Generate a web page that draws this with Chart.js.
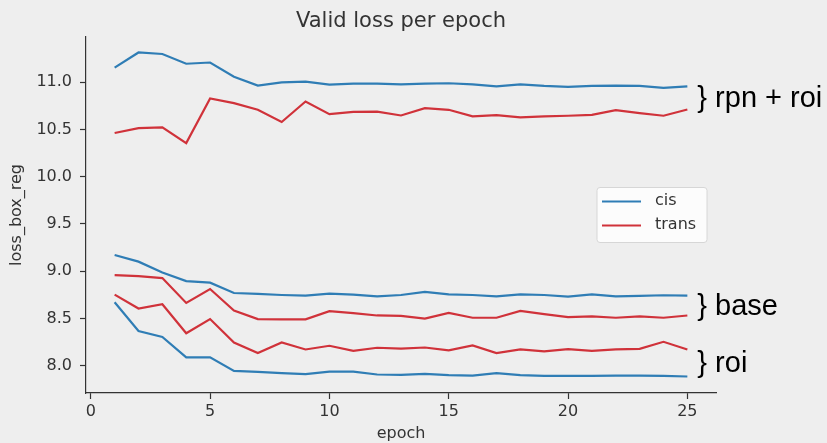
<!DOCTYPE html>
<html>
<head>
<meta charset="utf-8">
<script src="https://cdn.jsdelivr.net/npm/chart.js@4/dist/chart.umd.min.js"></script>
<style>
  html, body { margin: 0; padding: 0; background: #eeeeee; }
  canvas { display: block; }
</style>
</head>
<body>
<canvas id="lossChart" width="827" height="443"></canvas>
<script>
// valid loss values, epochs 1..25
const epochs = [1, 2, 3, 4, 5, 6, 7, 8, 9, 10, 11, 12, 13, 14, 15, 16, 17, 18, 19, 20, 21, 22, 23, 24, 25];

const cisRpnRoi = [11.155, 11.316, 11.30, 11.197, 11.21, 11.06, 10.965, 11.0, 11.007, 10.976, 10.986, 10.986, 10.979,
  10.986, 10.99, 10.979, 10.958, 10.979, 10.962, 10.951, 10.962, 10.965, 10.962, 10.941, 10.958];
const transRpnRoi = [10.463, 10.515, 10.523, 10.357, 10.83, 10.78, 10.71, 10.58, 10.797, 10.663, 10.688, 10.69, 10.649,
  10.726, 10.709, 10.639, 10.652, 10.628, 10.639, 10.646, 10.656, 10.705, 10.673, 10.646, 10.712];
const cisBase = [9.171, 9.101, 8.986, 8.895, 8.878, 8.769, 8.759, 8.748, 8.741, 8.762, 8.752, 8.734, 8.748,
  8.78, 8.755, 8.748, 8.734, 8.755, 8.748, 8.731, 8.755, 8.734, 8.738, 8.745, 8.741];
const transBase = [8.958, 8.948, 8.927, 8.664, 8.811, 8.584, 8.493, 8.49, 8.49, 8.577, 8.556, 8.531, 8.526,
  8.497, 8.559, 8.507, 8.507, 8.58, 8.545, 8.514, 8.521, 8.507, 8.521, 8.507, 8.531];
const cisRoi = [8.671, 8.367, 8.304, 8.087, 8.087, 7.944, 7.934, 7.92, 7.909, 7.937, 7.937, 7.906, 7.902,
  7.913, 7.899, 7.895, 7.92, 7.899, 7.892, 7.892, 7.892, 7.895, 7.895, 7.892, 7.885];
const transRoi = [8.752, 8.605, 8.65, 8.343, 8.493, 8.245, 8.133, 8.245, 8.171, 8.21, 8.157, 8.189, 8.18,
  8.192, 8.161, 8.213, 8.133, 8.171, 8.15, 8.175, 8.157, 8.171, 8.178, 8.252, 8.171];

const xTicks = [0, 5, 10, 15, 20, 25];
const yTicks = [8.0, 8.5, 9.0, 9.5, 10.0, 10.5, 11.0];

const seriesNames = ["cis", "trans"];
const groupLabels = ["rpn + roi", "base", "roi"];
const chartTitle = "Valid loss per epoch";

const BLUE = "#2f7db5";
const RED = "#d0323a";
const INK = "#333333";
const TICK_FONT = { family: "'DejaVu Sans', sans-serif", size: 16 };

function points(values) {
  return values.map((v, i) => ({ x: epochs[i], y: v }));
}

function lineSet(label, values, color) {
  return {
    label: label,
    data: points(values),
    borderColor: color,
    backgroundColor: color,
    borderWidth: 2.2,
    pointRadius: 0,
    tension: 0,
    fill: false,
  };
}

// pairs of (cis, trans) for each group, used for the brace labels
const groups = [
  [cisRpnRoi, transRpnRoi],
  [cisBase, transBase],
  [cisRoi, transRoi],
];

// title, legend box and "} label" annotations drawn on top
const overlay = {
  id: "overlay",
  afterDraw(chart) {
    const { ctx, chartArea, scales } = chart;
    const x = scales.x, y = scales.y;
    ctx.save();

    ctx.fillStyle = INK;
    ctx.font = "21px 'DejaVu Sans', sans-serif";
    ctx.textAlign = "center";
    ctx.textBaseline = "alphabetic";
    ctx.fillText(chartTitle, (chartArea.left + chartArea.right) / 2, 27);

    // legend, centre right
    const bw = 110, bh = 55;
    const bx = chartArea.right - 9 - bw;
    const by = (chartArea.top + chartArea.bottom) / 2 - bh / 2;
    ctx.beginPath();
    ctx.roundRect(bx, by, bw, bh, 3);
    ctx.fillStyle = "rgba(255,255,255,0.8)";
    ctx.fill();
    ctx.strokeStyle = "#d6d6d6";
    ctx.lineWidth = 1;
    ctx.stroke();
    ctx.font = "16px 'DejaVu Sans', sans-serif";
    ctx.textAlign = "left";
    ctx.textBaseline = "middle";
    seriesNames.forEach((name, i) => {
      const ry = by + 14 + i * 24;
      ctx.strokeStyle = chart.data.datasets[i].borderColor;
      ctx.lineWidth = 2.2;
      ctx.beginPath();
      ctx.moveTo(bx + 5, ry);
      ctx.lineTo(bx + 44, ry);
      ctx.stroke();
      ctx.fillStyle = INK;
      ctx.fillText(name, bx + 58, ry - 1);
    });

    // brace annotations next to the last epoch
    const last = epochs.length - 1;
    const lx = x.getPixelForValue(epochs[last]) + 10;
    ctx.fillStyle = "#000";
    ctx.font = "29px 'Liberation Sans', Arial, sans-serif";
    ctx.textBaseline = "alphabetic";
    groups.forEach((pair, i) => {
      const mid = (pair[0][last] + pair[1][last]) / 2;
      ctx.fillText("} " + groupLabels[i], lx, y.getPixelForValue(mid) + 9);
    });

    ctx.restore();
  },
};

new Chart(document.getElementById("lossChart"), {
  type: "line",
  data: {
    datasets: [
      lineSet(seriesNames[0], cisRpnRoi, BLUE),
      lineSet(seriesNames[1], transRpnRoi, RED),
      lineSet(seriesNames[0], cisBase, BLUE),
      lineSet(seriesNames[1], transBase, RED),
      lineSet(seriesNames[0], cisRoi, BLUE),
      lineSet(seriesNames[1], transRoi, RED),
    ],
  },
  options: {
    responsive: false,
    animation: false,
    devicePixelRatio: 1,
    layout: { padding: { top: 37, right: 111, bottom: 0, left: 0 } },
    plugins: {
      legend: { display: false },
      title: { display: false },
      tooltip: { enabled: false },
    },
    scales: {
      x: {
        type: "linear",
        min: -0.2,
        max: 26.2,
        afterFit(scale) { scale.height = 50; },
        afterBuildTicks(scale) { scale.ticks = xTicks.map((v) => ({ value: v })); },
        grid: { drawOnChartArea: false, drawTicks: true, tickLength: 6, tickColor: INK, tickWidth: 1.2 },
        border: { display: true, color: INK, width: 1.2 },
        ticks: { color: INK, font: TICK_FONT, padding: 3, maxRotation: 0, autoSkip: false },
        title: { display: true, text: "epoch", color: INK, font: TICK_FONT, padding: 0 },
      },
      y: {
        min: 7.71,
        max: 11.48,
        afterFit(scale) { scale.width = 86; },
        afterBuildTicks(scale) { scale.ticks = yTicks.map((v) => ({ value: v })); },
        grid: { drawOnChartArea: false, drawTicks: true, tickLength: 6, tickColor: INK, tickWidth: 1.2 },
        border: { display: true, color: INK, width: 1.2 },
        ticks: {
          color: INK,
          font: TICK_FONT,
          padding: 8,
          autoSkip: false,
          callback: (v) => Number(v).toFixed(1),
        },
        title: { display: true, text: "loss_box_reg", color: INK, font: TICK_FONT, padding: { top: 7, bottom: 0 } },
      },
    },
  },
  plugins: [overlay],
});
</script>
</body>
</html>
